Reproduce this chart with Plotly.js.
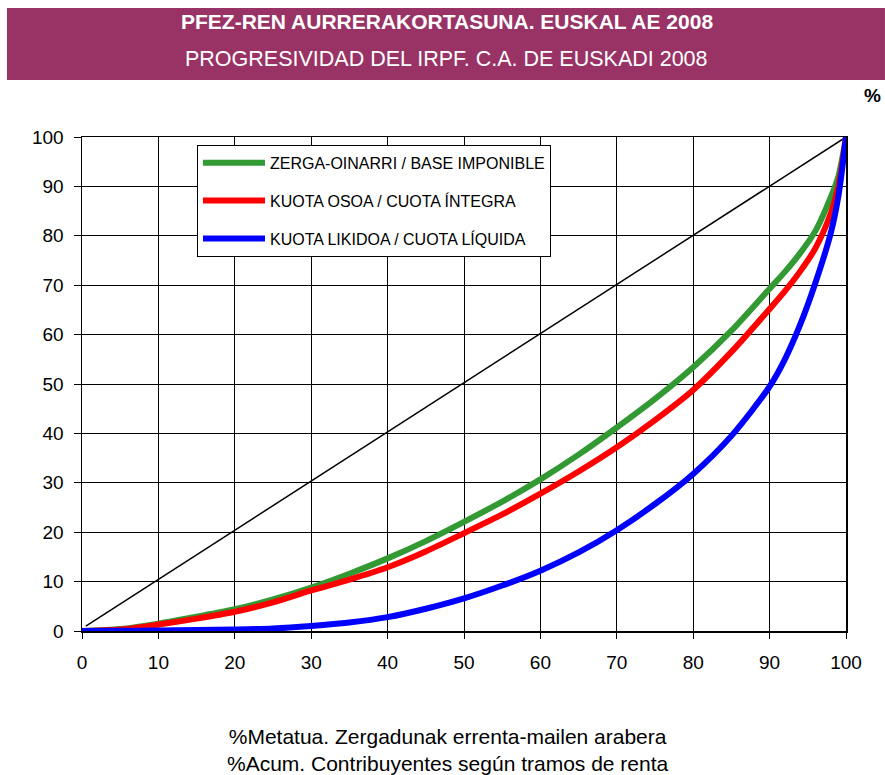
<!DOCTYPE html>
<html>
<head>
<meta charset="utf-8">
<script src="https://cdn.plot.ly/plotly-3.0.1.min.js"></script>
<style>
html,body{margin:0;padding:0;background:#fff;}
#chart{width:885px;height:775px;}
</style>
</head>
<body>
<div id="chart"></div>
<script>
// Accumulated % of taxpayers (by income bracket)
const xPct = [0,5,10,15,20,25,30,35,40,45,50,55,60,65,70,75,80,85,90,92,94,96,98,99,100];
// ZERGA-OINARRI / BASE IMPONIBLE
const baseImponible = [0,0.4,1.5,2.9,4.4,6.4,8.8,11.6,14.7,18.2,22.1,26.2,30.7,35.7,41.2,47,53.4,60.8,69.3,72.7,76.5,81,87.8,92,100];
// KUOTA OSOA / CUOTA ÍNTEGRA
const cuotaIntegra = [0,0.3,1.3,2.5,3.9,5.8,8.2,10.4,12.9,16.1,19.8,23.6,27.8,32.3,37.2,42.7,48.8,56.5,65.2,68.8,72.8,77.5,84.5,90,100];
// KUOTA LIKIDOA / CUOTA LÍQUIDA
const cuotaLiquida = [0,0.05,0.1,0.2,0.3,0.5,1.0,1.7,2.8,4.5,6.6,9.2,12.2,15.9,20.4,25.7,31.8,39.5,49.5,55,62,70.5,80.5,88,100];
// Equality line
const eqX = [0.5,100];
const eqY = [1,100];

const seriesNames = ["ZERGA-OINARRI / BASE IMPONIBLE","KUOTA OSOA / CUOTA ÍNTEGRA","KUOTA LIKIDOA / CUOTA LÍQUIDA"];
const seriesColors = ["#339933","#ff0000","#0000ff"];
const tickVals = [0,10,20,30,40,50,60,70,80,90,100];

const FONT = "Arial, 'Liberation Sans', sans-serif";

const traces = [
  {x: eqX, y: eqY, mode:"lines", line:{color:"#000", width:1.5}, showlegend:false, hoverinfo:"skip"},
  {x: xPct, y: baseImponible, name: seriesNames[0], legendgroup:"a", mode:"lines", line:{color:seriesColors[0], width:6, shape:"spline", smoothing:0.8}},
  {x: xPct, y: cuotaIntegra, name: seriesNames[1], legendgroup:"b", mode:"lines", line:{color:seriesColors[1], width:6, shape:"spline", smoothing:0.8}},
  {x: xPct, y: cuotaLiquida, name: seriesNames[2], legendgroup:"c", mode:"lines", line:{color:seriesColors[2], width:6, shape:"spline", smoothing:0.8}}
];

const layout = {
  width: 885, height: 775,
  margin: {l:82, r:39, t:137, b:144},
  paper_bgcolor:"#fff", plot_bgcolor:"#fff",
  font: {family: FONT, color:"#000", size:19},
  showlegend: true,
  legend: {
    x: 0.1505, y: 0.984, xanchor:"left", yanchor:"top",
    bgcolor:"#fff", bordercolor:"#000", borderwidth:1,
    font:{family:FONT, size:16, color:"#000"},
    traceorder:"grouped", tracegroupgap:14, itemwidth:62
  },
  xaxis: {
    range:[0,100], tickvals: tickVals, ticktext: tickVals.map(String),
    showgrid:true, gridcolor:"#000", gridwidth:1,
    showline:true, linecolor:"#000", linewidth:1.5, mirror:true,
    ticks:"outside", ticklen:6, tickcolor:"#000", tickwidth:1,
    ticklabelstandoff:8,
    tickfont:{family:FONT, size:19, color:"#000"},
    zeroline:false, fixedrange:true
  },
  yaxis: {
    range:[0,100], tickvals: tickVals, ticktext: tickVals.map(String),
    showgrid:true, gridcolor:"#000", gridwidth:1,
    showline:true, linecolor:"#000", linewidth:1.5, mirror:true,
    ticks:"outside", ticklen:7, tickcolor:"#000", tickwidth:1,
    ticklabelstandoff:6,
    tickfont:{family:FONT, size:19, color:"#000"},
    zeroline:false, fixedrange:true
  },
  shapes: [
    {type:"rect", xref:"paper", yref:"paper", x0:-0.0982, x1:1.051, y0:1.1154, y1:1.2611, fillcolor:"#993366", line:{width:0}, layer:"below"}
  ],
  annotations: [
    {text:"<b>PFEZ-REN AURRERAKORTASUNA. EUSKAL AE 2008</b>", xref:"paper", yref:"paper", x:0.4777, y:1.2328, xanchor:"center", yanchor:"middle", showarrow:false, font:{family:FONT, size:21, color:"#fff"}},
    {text:"PROGRESIVIDAD DEL IRPF. C.A. DE EUSKADI 2008", xref:"paper", yref:"paper", x:0.4777, y:1.1579, xanchor:"center", yanchor:"middle", showarrow:false, font:{family:FONT, size:21.5, color:"#fff"}},
    {text:"<b>%</b>", xref:"paper", yref:"paper", x:1.0353, y:1.085, xanchor:"center", yanchor:"middle", showarrow:false, font:{family:FONT, size:19, color:"#000"}},
    {text:"%Metatua. Zergadunak errenta-mailen arabera<br>%Acum. Contribuyentes según tramos de renta", xref:"paper", yref:"paper", x:0.4791, y:-0.1862, xanchor:"center", yanchor:"top", showarrow:false, font:{family:FONT, size:21, color:"#000"}}
  ]
};

Plotly.newPlot("chart", traces, layout, {displayModeBar:false, staticPlot:true});
</script>
</body>
</html>
